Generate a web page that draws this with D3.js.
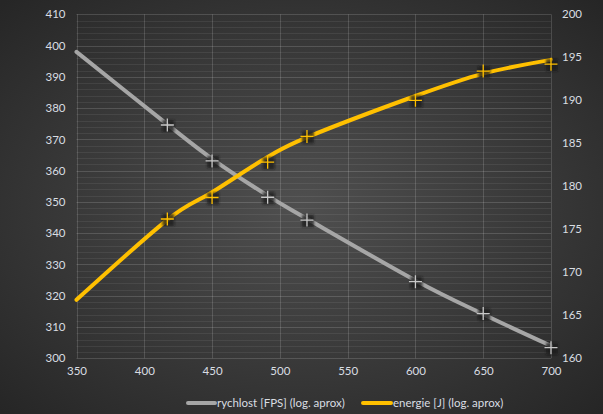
<!DOCTYPE html>
<html><head><meta charset="utf-8">
<script src="https://cdn.jsdelivr.net/npm/d3@7"></script>
<style>html,body{margin:0;padding:0;background:#2a2a2a;}svg{display:block;}</style>
</head><body>
<svg id="c" width="603" height="414"></svg>
<script>
// ---- data ----
const xTicks = [350, 400, 450, 500, 550, 600, 650, 700];
const leftTicks = [300, 310, 320, 330, 340, 350, 360, 370, 380, 390, 400, 410];
const rightTicks = [160, 165, 170, 175, 180, 185, 190, 195, 200];
// smoothed approximation lines
const lineX = [350, 417, 450, 491, 520, 600, 650, 700];
const speedLine = [398.0, 374.8, 363.8, 352.0, 344.6, 324.9, 314.1, 304.0];
const energyLine = [166.8, 176.1, 179.3, 183.4, 185.7, 190.5, 193.1, 194.7];
// measured points
const pointX = [417, 450, 491, 520, 600, 650, 700];
const speedPts = [374.6, 363.1, 351.5, 344.2, 324.5, 314.3, 303.4];
const energyPts = [176.2, 178.7, 182.8, 185.8, 190.0, 193.4, 194.2];
const seriesNames = ["rychlost [FPS] (log. aprox)", "energie [J] (log. aprox)"];
const seriesColors = ["#a6a6a6", "#ffc000"];

const W = 603, H = 414;
const svg = d3.select("#c");
const defs = svg.append("defs");
const rg = defs.append("radialGradient").attr("id", "bg")
  .attr("cx", "50%").attr("cy", "50%").attr("r", "70%");
rg.append("stop").attr("offset", "0%").attr("stop-color", "#4f4f4f");
rg.append("stop").attr("offset", "100%").attr("stop-color", "#262626");
const f = defs.append("filter").attr("id", "sh").attr("x", "-50%").attr("y", "-50%").attr("width", "200%").attr("height", "200%");
f.append("feGaussianBlur").attr("stdDeviation", 1.2);

svg.append("rect").attr("width", W).attr("height", H).attr("fill", "url(#bg)");

const x = d3.scaleLinear().domain([350, 700]).range([76.5, 551]);
const yL = d3.scaleLinear().domain([300, 410]).range([358.3, 14.3]);
const yR = d3.scaleLinear().domain([160, 200]).range([358.3, 14.3]);

// minor gridlines
const minor = d3.range(300, 410.01, 2).filter(v => v % 10 !== 0);
svg.append("g").selectAll("line").data(minor).join("line")
  .attr("x1", x(350)).attr("x2", x(700))
  .attr("y1", d => Math.round(yL(d)) + 0.5).attr("y2", d => Math.round(yL(d)) + 0.5)
  .attr("stroke", "#ffffff").attr("stroke-opacity", 0.07).attr("stroke-width", 1);
// major gridlines
svg.append("g").selectAll("line").data(leftTicks).join("line")
  .attr("x1", x(350)).attr("x2", x(700))
  .attr("y1", d => Math.round(yL(d)) + 0.5).attr("y2", d => Math.round(yL(d)) + 0.5)
  .attr("stroke", "#ffffff").attr("stroke-opacity", 0.15);
svg.append("g").selectAll("line").data(xTicks).join("line")
  .attr("x1", d => Math.round(x(d)) + 0.5).attr("x2", d => Math.round(x(d)) + 0.5)
  .attr("y1", yL(410)).attr("y2", yL(300))
  .attr("stroke", "#ffffff").attr("stroke-opacity", 0.15);

// axes labels
const font = "Lato, 'Open Sans', sans-serif";
const lab = "#d9dde2";
const axB = d3.axisBottom(x).tickValues(xTicks).tickSize(0).tickPadding(9);
svg.append("g").attr("transform", `translate(0,${yL(300)})`).call(axB)
  .call(g => g.select(".domain").remove())
  .selectAll("text").attr("fill", lab).style("font", `11.5px ${font}`);
const axL = d3.axisLeft(yL).tickValues(leftTicks).tickSize(0).tickPadding(11);
svg.append("g").attr("transform", `translate(${x(350)},0)`).call(axL)
  .call(g => g.select(".domain").remove())
  .selectAll("text").attr("fill", lab).style("font", `11.5px ${font}`);
const axR = d3.axisRight(yR).tickValues(rightTicks).tickSize(0).tickPadding(11);
svg.append("g").attr("transform", `translate(${x(700)},0)`).call(axR)
  .call(g => g.select(".domain").remove())
  .selectAll("text").attr("fill", lab).style("font", `11.5px ${font}`);

// lines
const curve = d3.curveCardinal.tension(0);
const lnS = d3.line().x((d, i) => x(lineX[i])).y(d => yL(d)).curve(curve);
const lnE = d3.line().x((d, i) => x(lineX[i])).y(d => yR(d)).curve(curve);
svg.append("path").attr("d", lnS(speedLine)).attr("fill", "none")
  .attr("stroke", seriesColors[0]).attr("stroke-width", 4).attr("stroke-linecap", "round");
svg.append("path").attr("d", lnE(energyLine)).attr("fill", "none")
  .attr("stroke", seriesColors[1]).attr("stroke-width", 4).attr("stroke-linecap", "round");

// markers
function markers(vals, yS, color) {
  const g = svg.append("g");
  const pts = vals.map((v, i) => [x(pointX[i]), yS(v)]);
  g.selectAll("rect").data(pts).join("rect")
    .attr("x", d => d[0] - 5).attr("y", d => d[1] - 5)
    .attr("width", 12).attr("height", 12)
    .attr("fill", "#1a1a1a").attr("fill-opacity", 0.75).attr("filter", "url(#sh)");
  g.selectAll("path").data(pts).join("path")
    .attr("d", d => `M${d[0] - 6.5},${d[1]}H${d[0] + 6.5}M${d[0]},${d[1] - 6.5}V${d[1] + 6.5}`)
    .attr("stroke", color).attr("stroke-width", 1.3).attr("fill", "none");
}
markers(speedPts, yL, "#c8c8c8");
markers(energyPts, yR, seriesColors[1]);

// legend
const legY = 403;
const leg = [{x0: 188, x1: 215, tx: 217}, {x0: 363, x1: 391, tx: 393}];
leg.forEach((l, i) => {
  svg.append("line").attr("x1", l.x0).attr("x2", l.x1).attr("y1", legY).attr("y2", legY)
    .attr("stroke", seriesColors[i]).attr("stroke-width", 4).attr("stroke-linecap", "round");
  svg.append("text").attr("x", l.tx).attr("y", legY + 4).attr("fill", lab)
    .style("font", `11.5px ${font}`).text(seriesNames[i]);
});
</script>
</body></html>
